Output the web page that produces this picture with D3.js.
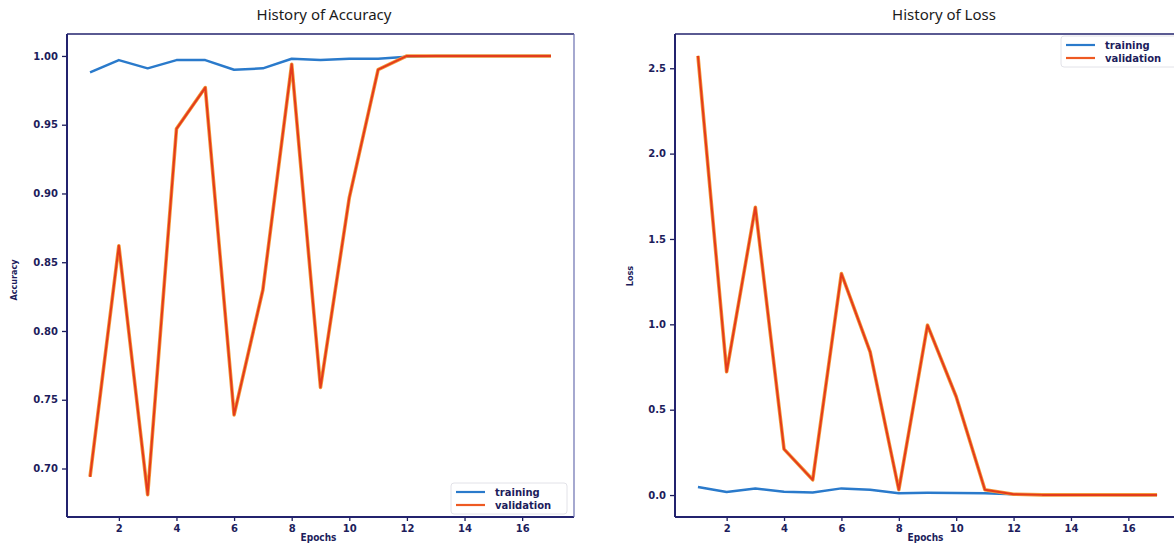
<!DOCTYPE html>
<html lang="en">
<head>
    <meta charset="UTF-8">
    <title>History of Accuracy / Loss</title>
    <script src="https://d3js.org/d3.v7.min.js"></script>
    <style>
        body { margin: 0; background: #fff; }
        .title { font-family: "Noto Sans", sans-serif; font-size: 15px; fill: #1b1b1b; }
        .tick text { font-family: "DejaVu Sans", sans-serif; font-weight: bold; font-size: 10px; fill: #1d1d5c; }
        .tick line { stroke: #1d1d5c; stroke-width: 1.3; }
        .domain { display: none; }
        .axis-label { font-family: "DejaVu Sans Condensed", "DejaVu Sans", sans-serif; font-size: 10px; font-weight: bold; fill: #1d1d5c; }
        .legend-text { font-family: "DejaVu Sans", sans-serif; font-weight: bold; font-size: 10px; fill: #1d1d5c; }
    </style>
</head>
<body>
<script>
    // data
    const epochs = [1, 2, 3, 4, 5, 6, 7, 8, 9, 10, 11, 12, 13, 14, 15, 16, 17];
    const accTraining   = [0.988, 0.997, 0.991, 0.997, 0.997, 0.990, 0.991, 0.998, 0.997, 0.998, 0.998, 0.9995, 1.0, 1.0, 1.0, 1.0, 1.0];
    const accValidation = [0.694, 0.862, 0.681, 0.947, 0.977, 0.739, 0.830, 0.994, 0.759, 0.897, 0.990, 1.0, 1.0, 1.0, 1.0, 1.0, 1.0];
    const lossTraining   = [0.047, 0.018, 0.039, 0.019, 0.015, 0.039, 0.031, 0.011, 0.013, 0.012, 0.010, 0.005, 0.002, 0.002, 0.001, 0.001, 0.001];
    const lossValidation = [2.572, 0.722, 1.686, 0.269, 0.089, 1.297, 0.839, 0.031, 0.995, 0.576, 0.031, 0.005, 0.001, 0.001, 0.001, 0.001, 0.001];
    const xTicks = [2, 4, 6, 8, 10, 12, 14, 16];
    const accTicks = [0.70, 0.75, 0.80, 0.85, 0.90, 0.95, 1.00];
    const lossTicks = [0.0, 0.5, 1.0, 1.5, 2.0, 2.5];

    const width = 1174, height = 545;
    const navy = "#23236e";
    const blue = "#2a7acb";
    const red = "#e43b1c";

    const svg = d3.select("body").append("svg")
        .attr("width", width)
        .attr("height", height);

    // matplotlib style: 5% margin round the data
    function padded(lo, hi) {
        const m = (hi - lo) * 0.05;
        return [lo - m, hi + m];
    }

    function panel(opt) {
        const x = d3.scaleLinear().domain(padded(1, 17)).range([opt.left, opt.right]);
        const y = d3.scaleLinear().domain(opt.yDomain).range([opt.bottom, opt.top]);
        const g = svg.append("g");

        g.append("text").attr("class", "title")
            .attr("x", opt.titleX).attr("y", 20)
            .attr("text-anchor", "middle")
            .text(opt.title);

        // axes
        g.append("g")
            .attr("transform", `translate(0,${opt.bottom})`)
            .call(d3.axisBottom(x).tickValues(xTicks).tickSize(4).tickPadding(4));
        g.append("g")
            .attr("transform", `translate(${opt.left},0)`)
            .call(d3.axisLeft(y).tickValues(opt.yTicks).tickSize(5).tickPadding(4).tickFormat(d3.format(opt.fmt)));

        // lines
        const line = vals => d3.line()
            .x((d, i) => x(epochs[i]))
            .y(d => y(d))(vals);

        g.append("path").attr("d", line(opt.training))
            .attr("fill", "none").attr("stroke", blue).attr("stroke-width", 2.5)
            .attr("stroke-linejoin", "round");
        g.append("path").attr("d", line(opt.validation))
            .attr("fill", "none").attr("stroke", "#f39a3a").attr("stroke-width", 3.6)
            .attr("stroke-linejoin", "round");
        g.append("path").attr("d", line(opt.validation))
            .attr("fill", "none").attr("stroke", red).attr("stroke-width", 2)
            .attr("stroke-linejoin", "round");

        // frame
        const f = g.append("g").attr("stroke", navy).attr("stroke-width", 2).attr("fill", "none");
        f.append("line").attr("x1", opt.left).attr("x2", opt.left).attr("y1", opt.top).attr("y2", opt.bottom);
        f.append("line").attr("x1", opt.left).attr("x2", opt.right).attr("y1", opt.bottom).attr("y2", opt.bottom);
        f.append("line").attr("x1", opt.left).attr("x2", opt.right).attr("y1", opt.top).attr("y2", opt.top)
            .attr("stroke-width", 1.5);
        f.append("line").attr("x1", opt.right).attr("x2", opt.right).attr("y1", opt.top).attr("y2", opt.bottom)
            .attr("stroke", "#6a6fb0").attr("stroke-width", 1.2);

        // axis labels
        g.append("text").attr("class", "axis-label")
            .attr("x", (opt.left + opt.right) / 2 - 2).attr("y", 541)
            .attr("text-anchor", "middle").text("Epochs");
        g.append("text").attr("class", "axis-label")
            .attr("transform", `translate(${opt.yLabelX},${opt.yLabelY}) rotate(-90)`)
            .attr("text-anchor", "middle").style("font-size", "9px")
            .text(opt.yLabel);

        // legend
        const lg = g.append("g").attr("transform", `translate(${opt.legX},${opt.legY})`);
        lg.append("rect").attr("width", 116).attr("height", 31).attr("rx", 3)
            .attr("fill", "#fff").attr("stroke", "#e2e2e8");
        [["training", blue], ["validation", "#ee5a22"]].forEach((e, i) => {
            const yy = 9 + i * 13;
            lg.append("line").attr("x1", 5).attr("x2", 34).attr("y1", yy).attr("y2", yy)
                .attr("stroke", e[1]).attr("stroke-width", 2.2);
            lg.append("text").attr("class", "legend-text")
                .attr("x", 44).attr("y", yy + 3.5).text(e[0]);
        });
    }

    panel({
        title: "History of Accuracy", titleX: 324,
        left: 67, right: 574, top: 34, bottom: 517,
        yDomain: padded(0.6807, 1.0), yTicks: accTicks, fmt: ".2f",
        training: accTraining, validation: accValidation,
        yLabel: "Accuracy", yLabelX: 17, yLabelY: 280,
        legX: 451, legY: 483
    });

    panel({
        title: "History of Loss", titleX: 944,
        left: 675, right: 1180, top: 34, bottom: 517,
        yDomain: padded(0, 2.572), yTicks: lossTicks, fmt: ".1f",
        training: lossTraining, validation: lossValidation,
        yLabel: "Loss", yLabelX: 633, yLabelY: 276,
        legX: 1061, legY: 36
    });
</script>
</body>
</html>
